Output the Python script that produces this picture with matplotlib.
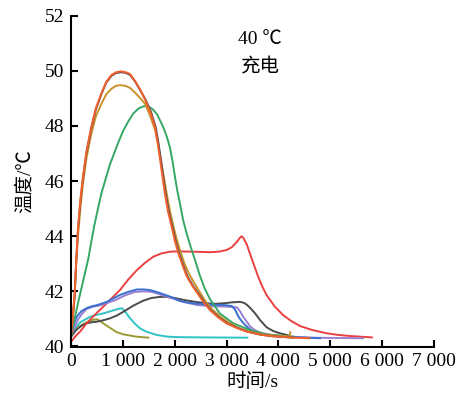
import matplotlib
matplotlib.use('Agg')
import matplotlib.pyplot as plt

# time (s) / temperature (C)
t_orange = [0, 30, 70, 100, 135, 180, 230, 300, 390, 480, 585, 680, 780, 870, 970, 1060, 1140, 1240, 1340, 1430,
            1530, 1620, 1670, 1720, 1765, 1810, 1870, 1940, 2000, 2070, 2150, 2230, 2340, 2450, 2560, 2680, 2840,
            3000, 3200, 3390, 3650, 3900, 4300, 4600]
T_orange = [40.35, 41.0, 41.9, 43.1, 44.3, 45.3, 46.15, 47.1, 47.95, 48.65, 49.18, 49.6, 49.85, 49.95, 49.98, 49.95,
            49.88, 49.62, 49.3, 48.95, 48.5, 47.95, 47.4, 46.75, 46.15, 45.55, 44.9, 44.35, 43.85, 43.38, 42.95,
            42.55, 42.2, 41.9, 41.6, 41.32, 41.05, 40.84, 40.67, 40.54, 40.43, 40.37, 40.32, 40.3]

t_dark = [0, 30, 70, 100, 135, 180, 230, 300, 390, 480, 585, 680, 780, 870, 970, 1060, 1140, 1240, 1340, 1440,
          1545, 1635, 1685, 1735, 1780, 1825, 1885, 1955, 2015, 2085, 2165, 2245, 2355, 2465, 2575, 2695, 2855,
          3015, 3215, 3400, 3650, 3900, 4300]
T_dark = [40.35, 40.95, 41.85, 43.05, 44.25, 45.25, 46.1, 47.05, 47.9, 48.6, 49.15, 49.57, 49.82, 49.92, 49.95,
          49.92, 49.85, 49.6, 49.28, 48.95, 48.5, 47.95, 47.4, 46.75, 46.15, 45.55, 44.9, 44.35, 43.85, 43.38,
          42.95, 42.55, 42.2, 41.9, 41.6, 41.32, 41.05, 40.84, 40.67, 40.54, 40.43, 40.37, 40.32]

t_gold = [0, 30, 70, 100, 135, 180, 230, 300, 390, 480, 585, 680, 780, 870, 960, 1060, 1140, 1240, 1340, 1430,
          1530, 1630, 1690, 1740, 1790, 1840, 1900, 1970, 2030, 2100, 2190, 2280, 2380, 2490, 2600, 2720, 2870,
          3030, 3220, 3420, 3650, 3900, 4220, 4228]
T_gold = [40.35, 40.9, 41.8, 43.0, 44.0, 45.0, 45.9, 46.85, 47.7, 48.35, 48.8, 49.15, 49.35, 49.46, 49.48, 49.45,
          49.38, 49.2, 49.0, 48.8, 48.35, 47.8, 47.25, 46.7, 46.15, 45.6, 45.0, 44.4, 43.95, 43.5, 43.0, 42.62,
          42.3, 41.95, 41.62, 41.35, 41.1, 40.88, 40.68, 40.55, 40.45, 40.4, 40.36, 40.52]

t_green = [0, 150, 330, 450, 585, 750, 906, 1000, 1100, 1200, 1300, 1380, 1430, 1500, 1580, 1660, 1730, 1780, 1850,
           1910, 1960, 2005, 2050, 2100, 2160, 2230, 2310, 2390, 2480, 2580, 2680, 2870, 3130, 3450, 3770, 4290]
T_green = [40.4, 41.7, 43.15, 44.4, 45.55, 46.6, 47.37, 47.8, 48.15, 48.45, 48.63, 48.7, 48.72, 48.7, 48.6, 48.42,
           48.15, 47.95, 47.6, 47.2, 46.7, 46.15, 45.65, 45.2, 44.6, 44.1, 43.6, 43.15, 42.6, 42.1, 41.72, 41.2,
           40.84, 40.6, 40.44, 40.36]

t_red = [0, 90, 175, 300, 460, 620, 780, 945, 1100, 1270, 1430, 1590, 1750, 1910, 2070, 2360, 2680, 2850, 3000,
         3100, 3200, 3260, 3290, 3330, 3390, 3450, 3530, 3610, 3690, 3770, 3930, 4090, 4250, 4420, 4650, 4930,
         5150, 5380, 5800]
T_red = [40.17, 40.38, 40.54, 40.84, 41.15, 41.44, 41.74, 42.05, 42.42, 42.77, 43.04, 43.26, 43.38, 43.44, 43.45,
         43.44, 43.42, 43.44, 43.5, 43.6, 43.8, 43.95, 44.0, 43.92, 43.7, 43.38, 42.95, 42.53, 42.17, 41.87, 41.45,
         41.14, 40.92, 40.74, 40.6, 40.48, 40.42, 40.38, 40.33]

t_blue = [0, 50, 110, 200, 300, 400, 500, 600, 690, 800, 945, 1100, 1270, 1400, 1520, 1700, 1910, 2100, 2300, 2450,
          2700, 2970, 3100, 3160, 3230, 3300, 3360, 3440, 3520, 3650, 3800, 4200, 4800]
T_blue = [40.4, 40.8, 41.08, 41.28, 41.39, 41.46, 41.5, 41.56, 41.62, 41.73, 41.87, 41.98, 42.07, 42.07, 42.05,
          41.95, 41.81, 41.65, 41.58, 41.55, 41.52, 41.5, 41.47, 41.35, 41.08, 40.9, 40.78, 40.64, 40.54, 40.46,
          40.42, 40.35, 40.3]

t_purple = [0, 70, 140, 220, 300, 420, 530, 700, 850, 1050, 1230, 1400, 1560, 1780, 2000, 2200, 2450, 2700, 2970,
            3200, 3260, 3320, 3390, 3450, 3540, 3640, 3800, 4000, 4600, 5630]
T_purple = [40.4, 40.7, 41.0, 41.2, 41.36, 41.44, 41.48, 41.58, 41.68, 41.86, 41.98, 42.0, 41.98, 41.85, 41.72,
            41.6, 41.5, 41.46, 41.45, 41.42, 41.28, 41.08, 40.9, 40.74, 40.6, 40.51, 40.44, 40.38, 40.32, 40.3]

t_gray = [0, 100, 200, 300, 400, 500, 620, 750, 880, 1010, 1200, 1390, 1550, 1720, 1850, 2000, 2200, 2400, 2600,
          2800, 2950, 3100, 3260, 3340, 3400, 3470, 3550, 3650, 3770, 3900, 4030, 4200]
T_gray = [40.35, 40.6, 40.75, 40.84, 40.88, 40.9, 40.95, 41.02, 41.12, 41.26, 41.48, 41.66, 41.76, 41.8, 41.8,
          41.76, 41.68, 41.62, 41.57, 41.55, 41.57, 41.6, 41.62, 41.58, 41.5, 41.37, 41.2, 40.95, 40.7, 40.56,
          40.48, 40.4]

t_cyan = [0, 80, 180, 370, 500, 620, 800, 900, 980, 1030, 1080, 1140, 1230, 1330, 1450, 1650, 1850, 2040, 2600, 3400]
T_cyan = [40.4, 40.65, 40.88, 41.08, 41.15, 41.2, 41.3, 41.36, 41.39, 41.3, 41.17, 41.02, 40.83, 40.66, 40.54,
          40.42, 40.36, 40.34, 40.33, 40.32]

t_olive = [0, 80, 150, 250, 350, 430, 496, 560, 650, 750, 870, 1010, 1250, 1490]
T_olive = [40.4, 40.58, 40.7, 40.83, 40.92, 40.97, 40.99, 40.93, 40.8, 40.68, 40.53, 40.44, 40.36, 40.32]

series = [
    (t_cyan, T_cyan, '#2fc3c6'),
    (t_olive, T_olive, '#9b9a34'),
    (t_gray, T_gray, '#4b4b4b'),
    (t_red, T_red, '#ea4040'),
    (t_purple, T_purple, '#9a7fce'),
    (t_blue, T_blue, '#3a6fcf'),
    (t_green, T_green, '#35a865'),
    (t_gold, T_gold, '#c9922c'),
    (t_dark, T_dark, '#5a4a5e'),
    (t_orange, T_orange, '#f2612a'),
]

serif = ['Liberation Serif', 'Noto Sans CJK SC']

fig = plt.figure(figsize=(4.68, 3.98), dpi=100)
ax = fig.add_axes([71 / 468, 1 - 346.5 / 398, 363 / 468, 330.8 / 398])

for t, T, c in series:
    ax.plot(t, T, color=c, lw=1.4, solid_joinstyle='round')

ax.set_xlim(0, 7000)
ax.set_ylim(40, 52)
ax.set_xticks(range(0, 7001, 1000))
ax.set_xticklabels(['0', '1 000', '2 000', '3 000', '4 000', '5 000', '6 000', '7 000'])
ax.set_yticks(range(40, 53, 2))
ax.spines['top'].set_visible(False)
ax.spines['right'].set_visible(False)
for s in ['left', 'bottom']:
    ax.spines[s].set_linewidth(1.5)
ax.tick_params(direction='in', length=5, width=1.5, labelsize=14, pad=5)
for lab in ax.get_xticklabels() + ax.get_yticklabels():
    lab.set_family(serif)

ax.set_xlabel('时间/s', family=serif, fontsize=14, labelpad=2)
ax.set_ylabel('温度/℃', family=serif, fontsize=14, labelpad=8)

fig.text(260 / 468, 1 - 40 / 398, '40 ℃', family=serif, fontsize=14, ha='center', va='center')
fig.text(260 / 468, 1 - 67 / 398, '充电', family=serif, fontsize=14, ha='center', va='center')

fig.savefig('out.png', dpi=100)
